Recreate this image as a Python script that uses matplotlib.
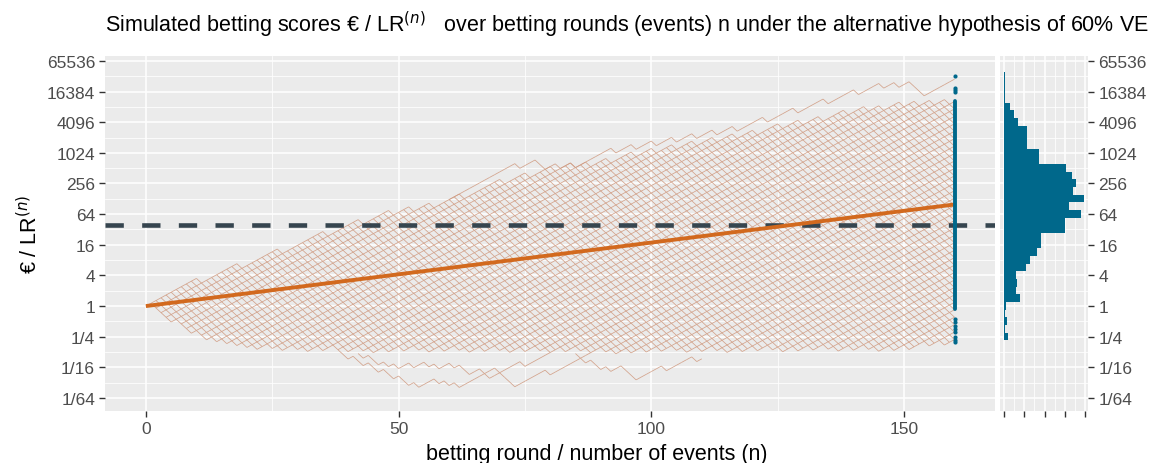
import numpy as np
import matplotlib.pyplot as plt
from matplotlib.collections import LineCollection
from matplotlib.ticker import NullFormatter

plt.rcParams['font.family'] = ['Liberation Sans', 'DejaVu Sans']

# betting factors per event (placebo-arm event -> up, vaccine-arm event -> down)
up_factor = 1.1333
down_factor = 0.8095
n_rounds = 160

# envelope of the dense bundle of simulated paths (log2 of score)
env_n = [0, 10, 20, 30, 40, 50, 60, 70, 80, 90, 100, 110, 120, 130, 140, 150, 160]
env_upper = [0, 1.8, 3.0, 4.2, 5.5, 6.4, 7.0, 8.3, 9.1, 9.6, 10.3, 10.9, 11.5, 12.2, 12.9, 13.4, 13.6]
env_lower = [0, -2.0, -2.8, -2.9, -3.0, -3.0, -3.0, -3.0, -3.0, -3.1, -3.0, -3.0, -3.0, -2.9, -2.9, -2.9, -2.4]

# outlying paths: start round, start number of up-steps, step sequence
outlier_paths = [
    (60, 52, "uuuuuuuuuuu" "uuduuu" "dduuduuduuuu" "uuuduuudu" "uuduuuduuudu"
             "uuduuudu" "uuuuduuuuuduuuuudu" "uuuuduuuu" "duuduu" "ddd" "uuuuuu"),
    (38, 18, "ddudduddudduddudu" "uudududuuu" "uuduuddd" "uuuuuuduuuuuuuu"),
    (85, 47, "ddudduduuddd" "uuuuuduuuuudu"),
    (42, 20, "duddudud" "uuduududuu" "dudduuduud" "uuuuduuuuu"),
]

# mean log growth line and rejection threshold
mean_n = [0, 160]
mean_score = [1, 99]
threshold = 40

# final scores at n = 160 (log2): continuous band plus isolated points
final_band = (-0.2, 13.4)
final_points = [15.03, 14.25, 14.1, 13.95, -0.85, -1.04, -1.27, -1.5, -1.7, -2.02, -2.19, -2.32]

# histogram of final scores (log2 bins, 0.5 wide)
hist_first_edge = -2.23
hist_binwidth = 0.5
hist_counts = [4, 1, 3, 1, 2, 16, 12, 13, 12, 22, 26, 33, 36, 36, 60, 60, 76, 64, 79,
               68, 71, 67, 61, 35, 35, 23, 23, 23, 14, 10, 6, 1, 1, 1, 1]

y_breaks = [2.0 ** p for p in range(-6, 17, 2)]
y_labels = ['1/64', '1/16', '1/4', '1', '4', '16', '64', '256', '1024', '4096', '16384', '65536']

panel_bg = '#EBEBEB'
blue = '#00688B'

a = np.log2(up_factor)
b = -np.log2(down_factor)


def inside(n, y):
    lo = np.interp(n, env_n, env_lower) - 0.05
    hi = np.interp(n, env_n, env_upper) + 0.05
    return lo <= y <= hi


# lattice edges inside the envelope
segs = []
for n in range(n_rounds):
    for k in range(n + 1):
        y0 = a * k - b * (n - k)
        if not inside(n, y0):
            continue
        for dy in (a, -b):
            if inside(n + 1, y0 + dy):
                segs.append([(n, 2 ** y0), (n + 1, 2 ** (y0 + dy))])

for n0, k0, steps in outlier_paths:
    y = a * k0 - b * (n0 - k0)
    for i, s in enumerate(steps):
        y1 = y + (a if s == 'u' else -b)
        segs.append([(n0 + i, 2 ** y), (n0 + i + 1, 2 ** y1)])
        y = y1

fig = plt.figure(figsize=(11.6, 4.64), dpi=100)
ax = fig.add_axes([0.0909, 0.1127, 0.7668, 0.7651])
axh = fig.add_axes([0.8621, 0.1127, 0.0759, 0.7651])

for a_ in (ax, axh):
    a_.set_facecolor(panel_bg)
    for sp in a_.spines.values():
        sp.set_visible(False)
    a_.set_yscale('log', base=2)
    a_.set_ylim(2 ** -6.83, 2 ** 16.34)
    a_.set_yticks(y_breaks)
    a_.set_yticks([2.0 ** p for p in range(-5, 17, 2)], minor=True)
    a_.yaxis.set_minor_formatter(NullFormatter())
    a_.grid(True, which='major', color='white', lw=1.1)
    a_.grid(True, which='minor', color='white', lw=0.55)
    a_.set_axisbelow(True)
    a_.tick_params(which='major', length=4, width=1, color='#333333',
                   labelcolor='#4D4D4D', labelsize=12.5)
    a_.tick_params(which='minor', length=0)

ax.add_collection(LineCollection(segs, colors='#D09A80', linewidths=0.55, alpha=0.9, zorder=2))
ax.axhline(threshold, color='#36454F', lw=3.3, dashes=(4, 4), zorder=3)
ax.plot(mean_n, mean_score, color='#D2691E', lw=2.8, solid_capstyle='butt', zorder=4)
ax.vlines(n_rounds, 2 ** final_band[0], 2 ** final_band[1], color=blue, lw=2.8,
          capstyle='round', zorder=5)
ax.scatter([n_rounds] * len(final_points), [2 ** v for v in final_points], s=9,
           color=blue, lw=0, zorder=5)

ax.set_xlim(-8, 168)
ax.set_xticks([0, 50, 100, 150])
ax.set_xticks([25, 75, 125], minor=True)
ax.set_yticklabels(y_labels)

hist_lo = [hist_first_edge + i * hist_binwidth for i in range(len(hist_counts))]
axh.barh([2 ** v for v in hist_lo], hist_counts,
         height=[2 ** (v + hist_binwidth) - 2 ** v for v in hist_lo],
         align='edge', color=blue, lw=0, zorder=3)
axh.set_xlim(-3.95, 82.95)
axh.set_xticks([0, 20, 40, 60, 80])
axh.set_xticks([10, 30, 50, 70], minor=True)
axh.set_xticklabels([])
axh.yaxis.tick_right()
axh.set_yticklabels(y_labels)

fig.text(0.0909, 1 - 25 / 464,
         'Simulated betting scores € / LR$^{(n)}$   over betting rounds (events) n under the alternative hypothesis of 60% VE',
         ha='left', va='center', fontsize=15.5, color='black')
fig.text(597 / 1160, 1 - 455 / 464, 'betting round / number of events (n)',
         ha='center', va='center', fontsize=15.5)
fig.text(30 / 1160, 1 - 234 / 464, '€ / LR$^{(n)}$', rotation=90,
         ha='center', va='center', fontsize=15.5)

fig.savefig('out.png', dpi=100)
